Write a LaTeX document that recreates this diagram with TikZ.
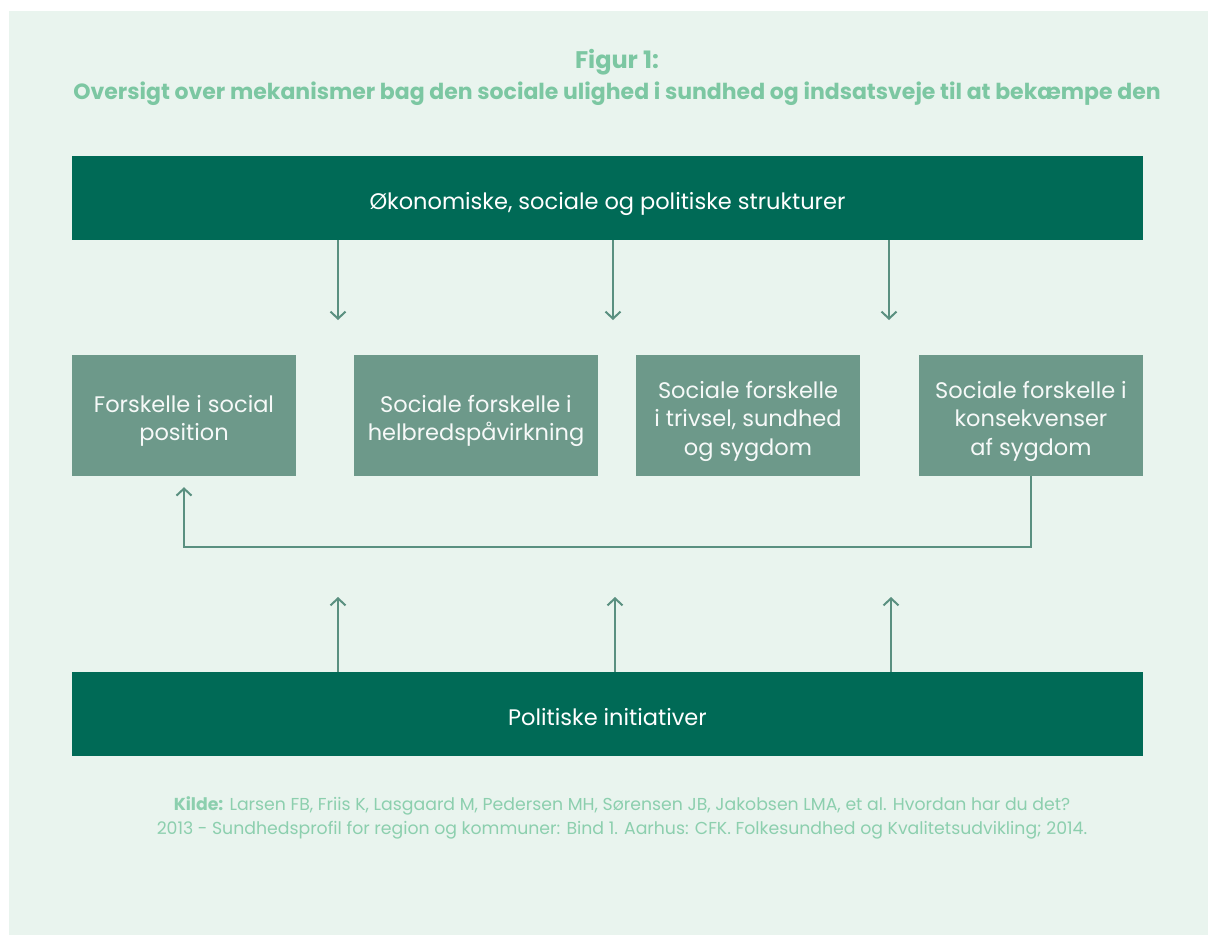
\documentclass[tikz,border=0pt]{standalone}
\usepackage{fontspec}
\setmainfont{Poppins}
\usetikzlibrary{arrows.meta}

\begin{document}
\begin{tikzpicture}[x=1pt, y=-1pt,
    wide/.style={fill=darkbox, text=white, minimum width=1071pt, minimum height=84pt, inner sep=0pt, text height=22.5pt, text depth=0pt, font=\fontsize{22.5}{28.5}\selectfont},
    mech/.style={fill=midbox, text=white!94!midbox, minimum height=121pt, inner sep=0pt, align=center, text height=50.4pt, text depth=0pt, font=\fontsize{22.5}{28.5}\selectfont},
    flow/.style={draw=arrowcol, line width=2pt, -{Straight Barb[length=7pt, width=15pt]}}]
  % Define colors
  \definecolor{bgcolor}{HTML}{E9F4EE}
  \definecolor{darkbox}{HTML}{006A56}
  \definecolor{midbox}{HTML}{6D998A}
  \definecolor{arrowcol}{HTML}{5A9080}
  \definecolor{titlecol}{HTML}{7CC7A2}
  \definecolor{srccol}{HTML}{8CCFAE}

  % Background
  \useasboundingbox (0,0) rectangle (1208,935);
  \fill[bgcolor] (9,11) rectangle (1208,935);

  % Heading
  \node[text=titlecol, font=\bfseries\fontsize{24}{28}\selectfont] (fig) at (617,62) {Figur 1:};
  \node[text=titlecol, font=\bfseries\fontsize{22}{26}\selectfont] (title) at (617,94) {Oversigt over mekanismer bag den sociale ulighed i sundhed og indsatsveje til at bekæmpe den};

  % Boxes
  \node[wide] (econ) at (607.5,198) {Økonomiske, sociale og politiske strukturer};
  \node[mech, minimum width=224pt] (posit) at (184,415.5) {Forskelle i social\\position};
  \node[mech, minimum width=244pt] (expo) at (476,415.5) {Sociale forskelle i\\helbredspåvirkning};
  \node[mech, minimum width=224pt, text height=79.4pt] (health) at (748,415.5) {Sociale forskelle\\i trivsel, sundhed\\og sygdom};
  \node[mech, minimum width=224pt, text height=79.4pt] (conseq) at (1031,415.5) {Sociale forskelle i\\konsekvenser\\af sygdom};
  \node[wide] (policy) at (607.5,714) {Politiske initiativer};

  % Arrow ends
  \coordinate (d1) at (338,320);
  \coordinate (d2) at (613,320);
  \coordinate (d3) at (889,320);
  \coordinate (u1) at (338,597);
  \coordinate (u2) at (615,597);
  \coordinate (u3) at (891,597);
  \coordinate (loop) at (0,547);

  % Structures down, initiatives up
  \foreach \i in {1,2,3} {
    \draw[flow] (econ.south -| d\i) -- (d\i);
    \draw[flow] (policy.north -| u\i) -- (u\i);
  }

  % Feedback from consequences to position
  \draw[flow, shorten >=11pt] (conseq.south) -- (conseq.south |- loop) -- (posit.south |- loop) -- (posit.south);

  % Source
  \node[text=srccol, align=center, font=\fontsize{17.3}{24}\selectfont] (src) at (622,818) {\textbf{Kilde:} Larsen FB, Friis K, Lasgaard M, Pedersen MH, Sørensen JB, Jakobsen LMA, et al. Hvordan har du det?\\2013 - Sundhedsprofil for region og kommuner: Bind 1. Aarhus: CFK. Folkesundhed og Kvalitetsudvikling; 2014.};
\end{tikzpicture}
\end{document}
